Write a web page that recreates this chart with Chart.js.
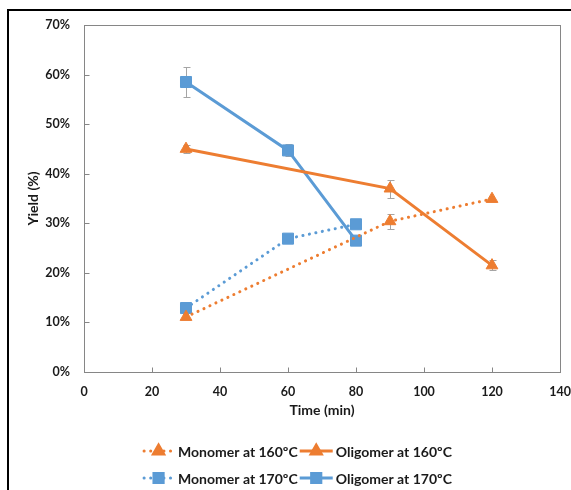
<!DOCTYPE html>
<html lang="en">
<head>
    <meta charset="UTF-8">
    <title>Yield vs time</title>
    <script src="https://cdn.jsdelivr.net/npm/chart.js"></script>
    <style>
        body {
            margin: 0;
            background: #fff;
        }

        .wrap {
            position: relative;
            width: 571px;
            height: 490px;
            overflow: hidden;
        }

        .frame {
            position: absolute;
            left: 7px;
            top: 9px;
            width: 700px;
            height: 600px;
            border-top: 2px solid #000;
            border-left: 2px solid #000;
            pointer-events: none;
        }
    </style>
</head>
<body>
    <div class="wrap">
        <canvas id="chart" width="571" height="490"></canvas>
        <div class="frame"></div>
    </div>

    <script>
        // data (yield in %)
        const times160 = [30, 90, 120];
        const times170 = [30, 60, 80];
        const monomer160 = [11.1, 30.4, 34.9];
        const oligomer160 = [45.0, 37.0, 21.5];
        const monomer170 = [12.9, 26.9, 29.8];
        const oligomer170 = [58.5, 44.7, 26.5];
        // error bar half-heights
        const monomer160Err = [0, 1.5, 0];
        const oligomer160Err = [0.8, 1.8, 1.0];
        const monomer170Err = [0, 0.5, 0];
        const oligomer170Err = [3.0, 1.2, 0];

        const labels = ['Monomer at 160ºC', 'Oligomer at 160ºC', 'Monomer at 170ºC', 'Oligomer at 170ºC'];
        const xTicks = [0, 20, 40, 60, 80, 100, 120, 140];
        const yTicks = [0, 10, 20, 30, 40, 50, 60, 70];

        const ORANGE = '#ED7D31';
        const BLUE = '#5B9BD5';
        const TEXT = '#1a1a1a';
        const FONT = 'Lato, "Open Sans", sans-serif';

        function pts(xs, ys) {
            return xs.map((x, i) => ({ x: x, y: ys[i] }));
        }

        function series(label, xs, ys, errs, color, style, dotted) {
            return {
                label: label,
                data: pts(xs, ys),
                errs: errs,
                borderColor: color,
                backgroundColor: color,
                borderWidth: 3,
                borderDash: dotted ? [0.1, 6.5] : [],
                borderCapStyle: dotted ? 'round' : 'butt',
                pointStyle: style,
                pointRadius: style === 'rect' ? 7.8 : 6.8,
                pointBorderWidth: 1,
                pointBorderColor: color,
                pointBackgroundColor: color,
                tension: 0,
                dotted: dotted
            };
        }

        const datasets = [
            series(labels[0], times160, monomer160, monomer160Err, ORANGE, 'triangle', true),
            series(labels[1], times160, oligomer160, oligomer160Err, ORANGE, 'triangle', false),
            series(labels[2], times170, monomer170, monomer170Err, BLUE, 'rect', true),
            series(labels[3], times170, oligomer170, oligomer170Err, BLUE, 'rect', false)
        ];

        // plot frame, inside tick marks and error bars
        const extras = {
            id: 'extras',
            beforeDatasetsDraw(chart) {
                const { ctx, chartArea: a, scales: { x, y } } = chart;
                ctx.save();
                ctx.strokeStyle = '#868686';
                ctx.lineWidth = 1;
                const l = Math.round(a.left) + 0.5, r = Math.round(a.right) + 0.5;
                const t = Math.round(a.top) + 0.5, b = Math.round(a.bottom) + 0.5;
                ctx.strokeRect(l, t, r - l, b - t);
                ctx.beginPath();
                xTicks.forEach(v => {
                    const px = Math.round(x.getPixelForValue(v)) + 0.5;
                    ctx.moveTo(px, b);
                    ctx.lineTo(px, b - 5);
                });
                yTicks.forEach(v => {
                    const py = Math.round(y.getPixelForValue(v)) + 0.5;
                    ctx.moveTo(l, py);
                    ctx.lineTo(l + 5, py);
                });
                ctx.stroke();

                ctx.strokeStyle = '#A5A5A5';
                ctx.beginPath();
                chart.data.datasets.forEach(ds => {
                    ds.data.forEach((p, i) => {
                        const e = ds.errs[i];
                        if (!e) return;
                        const px = Math.round(x.getPixelForValue(p.x)) + 0.5;
                        const top = Math.round(y.getPixelForValue(p.y + e)) + 0.5;
                        const bot = Math.round(y.getPixelForValue(p.y - e)) + 0.5;
                        ctx.moveTo(px, top); ctx.lineTo(px, bot);
                        ctx.moveTo(px - 3, top); ctx.lineTo(px + 4, top);
                        ctx.moveTo(px - 3, bot); ctx.lineTo(px + 4, bot);
                    });
                });
                ctx.stroke();
                ctx.restore();
            },
            afterDraw(chart) {
                // legend: two rows, two columns
                const ctx = chart.ctx;
                const ds = chart.data.datasets;
                ctx.save();
                ctx.font = 'bold 14px ' + FONT;
                ctx.textBaseline = 'middle';
                const sample = 33, gap = 3;
                const col1 = Math.max(ctx.measureText(ds[0].label).width, ctx.measureText(ds[2].label).width);
                const col2 = Math.max(ctx.measureText(ds[1].label).width, ctx.measureText(ds[3].label).width);
                const total = sample + gap + col1 + 2 + sample + gap + col2;
                const x0 = 297 - total / 2;
                const colX = [x0, x0 + sample + gap + col1 + 2];
                const rowY = [451, 478];
                ds.forEach((d, i) => {
                    const cx = colX[i % 2], cy = rowY[Math.floor(i / 2)];
                    ctx.strokeStyle = d.borderColor;
                    ctx.lineWidth = 3;
                    ctx.lineCap = d.dotted ? 'round' : 'butt';
                    ctx.setLineDash(d.dotted ? [0.1, 6.5] : []);
                    ctx.beginPath();
                    ctx.moveTo(cx + (d.dotted ? 2 : 0), cy);
                    ctx.lineTo(cx + sample, cy);
                    ctx.stroke();
                    ctx.setLineDash([]);
                    Chart.helpers.drawPoint(ctx, {
                        pointStyle: d.pointStyle,
                        radius: d.pointStyle === 'rect' ? 6.5 : 5.8,
                        borderWidth: 1,
                        rotation: 0
                    }, cx + sample / 2, cy);
                    ctx.fillStyle = d.borderColor;
                    ctx.fill();
                    ctx.fillStyle = TEXT;
                    ctx.fillText(d.label, cx + sample + gap, cy + 1);
                });
                ctx.restore();
            }
        };

        const tickFont = { family: FONT, size: 12.5, weight: 'bold' };
        const titleFont = { family: FONT, size: 14, weight: 'bold' };

        new Chart(document.getElementById('chart').getContext('2d'), {
            type: 'line',
            data: { datasets: datasets },
            options: {
                responsive: false,
                animation: false,
                layout: { padding: { left: 0, top: 25, right: 11, bottom: 70 } },
                plugins: {
                    legend: { display: false },
                    tooltip: { enabled: false }
                },
                scales: {
                    x: {
                        type: 'linear',
                        min: 0,
                        max: 140,
                        afterBuildTicks: s => { s.ticks = xTicks.map(v => ({ value: v })); },
                        grid: { display: false, drawTicks: false },
                        border: { display: false },
                        ticks: { font: tickFont, color: TEXT, padding: 12, maxRotation: 0 },
                        title: {
                            display: true,
                            text: 'Time (min)',
                            font: titleFont,
                            color: TEXT,
                            padding: { top: 0, bottom: 1 }
                        },
                        afterFit: s => {
                            s.height = 48;
                            s.paddingLeft = 0;
                            s.paddingRight = 0;
                        }
                    },
                    y: {
                        min: 0,
                        max: 70,
                        afterBuildTicks: s => { s.ticks = yTicks.map(v => ({ value: v })); },
                        grid: { display: false, drawTicks: false },
                        border: { display: false },
                        ticks: {
                            font: tickFont,
                            color: TEXT,
                            padding: 14,
                            callback: v => v + '%'
                        },
                        title: {
                            display: true,
                            text: 'Yield (%)',
                            font: titleFont,
                            color: TEXT,
                            padding: { top: 25, bottom: 0 }
                        },
                        afterFit: s => {
                            s.width = 84;
                            s.paddingTop = 0;
                            s.paddingBottom = 0;
                        }
                    }
                }
            },
            plugins: [extras]
        });
    </script>
</body>
</html>
